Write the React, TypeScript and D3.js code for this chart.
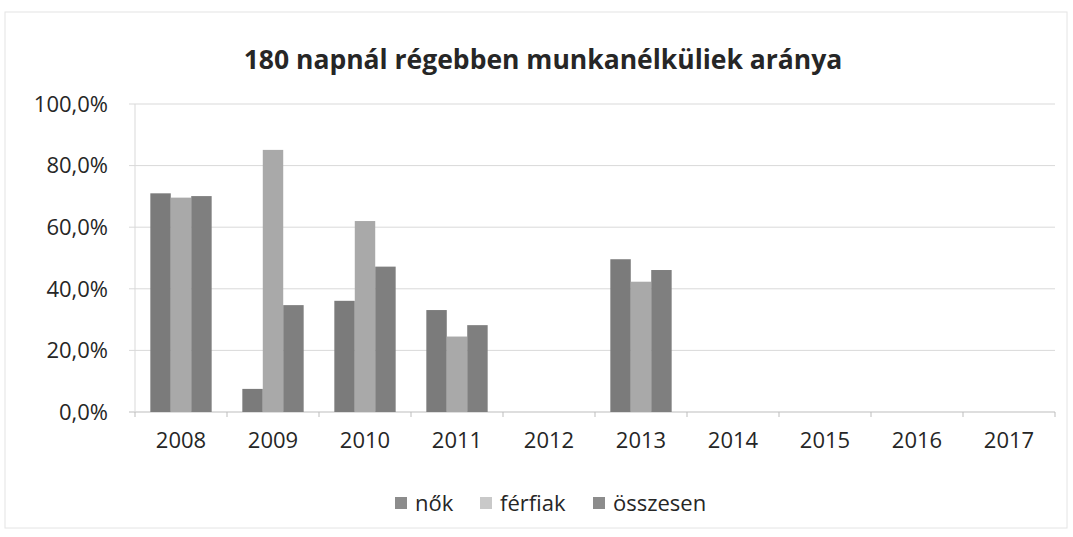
import React from "react";
import * as d3 from "d3";

const title = "180 napnál régebben munkanélküliek aránya";
const years = ["2008", "2009", "2010", "2011", "2012", "2013", "2014", "2015", "2016", "2017"];
const seriesNames = ["nők", "férfiak", "összesen"];
const nok: (number | null)[] = [71.0, 7.5, 36.1, 33.1, null, 49.6, null, null, null, null];
const ferfiak: (number | null)[] = [69.6, 85.1, 62.0, 24.5, null, 42.3, null, null, null, null];
const osszesen: (number | null)[] = [70.1, 34.7, 47.2, 28.2, null, 46.1, null, null, null, null];
const yTicks = [0, 20, 40, 60, 80, 100];
const barColors = ["#7b7b7b", "#a9a9a9", "#7f7f7f"];
const legendColors = ["#8c8c8c", "#c9c9c9", "#8c8c8c"];

export default function App() {
  const W = 1073, H = 537;
  const left = 135, right = 1055, top = 104, bottom = 412;
  const font = "'Open Sans', sans-serif";
  const x0 = d3.scaleBand<string>().domain(years).range([left, right]).paddingInner(0).paddingOuter(0);
  const groupW = x0.bandwidth() * (2 / 3);
  const x1 = d3.scaleBand<string>().domain(seriesNames).range([0, groupW]).padding(0);
  const y = d3.scaleLinear().domain([0, 100]).range([bottom, top]);
  const allSeries = [nok, ferfiak, osszesen];
  const fmt = (v: number) => d3.format(".1f")(v).replace(".", ",") + "%";
  const legendX = [395, 480, 593];

  return (
    <svg width={W} height={H} style={{ position: "absolute", left: 0, top: 0, background: "#fff" }}>
      <rect x={5} y={12} width={1062} height={516} fill="#fff" stroke="#e4e4e4" strokeWidth={1} />
      <text x={543} y={69} textAnchor="middle" fontFamily={font} fontWeight={700} fontSize={26.5} fill="#262626">
        {title}
      </text>
      {yTicks.map((t) => (
        <g key={t}>
          <line x1={left - 6} x2={right} y1={y(t)} y2={y(t)} stroke={t === 0 ? "#bdbdbd" : "#d9d9d9"} strokeWidth={1} />
          <text x={108} y={y(t)} dy="0.35em" textAnchor="end" fontFamily={font} fontSize={22} fill="#262626">
            {fmt(t)}
          </text>
        </g>
      ))}
      <line x1={left} x2={left} y1={top} y2={bottom} stroke="#d9d9d9" />
      {years.map((yr, i) => (
        <line key={"tk" + i} x1={x0(yr)!} x2={x0(yr)!} y1={bottom} y2={bottom + 5} stroke="#bdbdbd" />
      ))}
      <line x1={right} x2={right} y1={bottom} y2={bottom + 5} stroke="#bdbdbd" />
      {years.map((yr, i) => (
        <g key={yr}>
          {allSeries.map((s, j) => {
            const v = s[i];
            if (v == null) return null;
            const bx = x0(yr)! + (x0.bandwidth() - groupW) / 2 + x1(seriesNames[j])!;
            return <rect key={j} x={bx} y={y(v)} width={x1.bandwidth()} height={bottom - y(v)} fill={barColors[j]} />;
          })}
          <text x={x0(yr)! + x0.bandwidth() / 2} y={448} textAnchor="middle" fontFamily={font} fontSize={22} fill="#262626">
            {yr}
          </text>
        </g>
      ))}
      {seriesNames.map((n, j) => (
        <g key={n}>
          <rect x={legendX[j]} y={497} width={12} height={12} fill={legendColors[j]} />
          <text x={legendX[j] + 20} y={503} dy="0.35em" fontFamily={font} fontSize={22} fill="#262626">
            {n}
          </text>
        </g>
      ))}
    </svg>
  );
}
